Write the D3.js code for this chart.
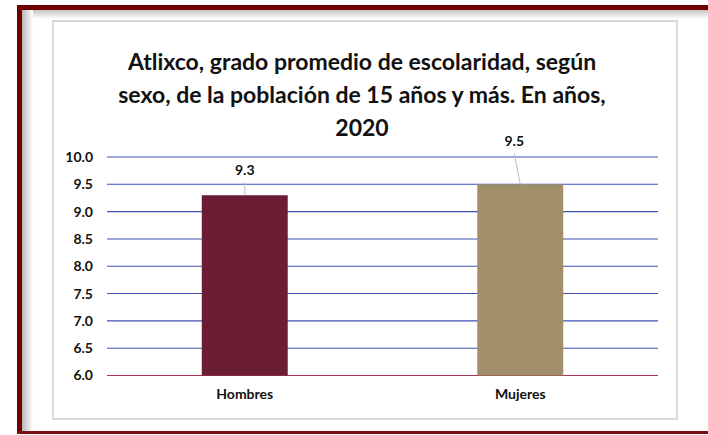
<!DOCTYPE html>
<html lang="es">
<head>
  <meta charset="UTF-8">
  <title>Atlixco escolaridad</title>
  <script src="https://d3js.org/d3.v7.min.js"></script>
  <style>
    body { margin: 0; background: #fff; }
    text { font-family: Lato, "Open Sans", sans-serif; font-weight: bold; fill: #111; }
  </style>
</head>
<body>
<script>
  // Datos
  const categorias = ["Hombres", "Mujeres"];
  const valores = [9.3, 9.5];
  const ticksY = [6.0, 6.5, 7.0, 7.5, 8.0, 8.5, 9.0, 9.5, 10.0];
  const colores = ["#6b1d33", "#a08f68"];
  const titulo = [
    "Atlixco, grado promedio de escolaridad, según",
    "sexo, de la población de 15 años y más. En años,",
    "2020"
  ];

  const W = 708, H = 435;
  const svg = d3.select("body").append("svg")
    .attr("width", W).attr("height", H);

  // Marco exterior con sombra
  const defs = svg.append("defs");
  const gh = defs.append("linearGradient").attr("id", "sombraH");
  gh.append("stop").attr("offset", "0%").attr("stop-color", "#b8b8b8");
  gh.append("stop").attr("offset", "100%").attr("stop-color", "#ffffff");
  const gv = defs.append("linearGradient").attr("id", "sombraV")
    .attr("x1", 0).attr("x2", 0).attr("y1", 0).attr("y2", 1);
  gv.append("stop").attr("offset", "0%").attr("stop-color", "#c4c4c4");
  gv.append("stop").attr("offset", "100%").attr("stop-color", "#ffffff");

  svg.append("rect").attr("x", 22).attr("y", 10).attr("width", W - 22).attr("height", 9)
    .attr("fill", "url(#sombraV)");
  svg.append("rect").attr("x", 22).attr("y", 10).attr("width", 11).attr("height", 421)
    .attr("fill", "url(#sombraH)");
  svg.append("rect").attr("x", 17).attr("y", 5).attr("width", W).attr("height", 5).attr("fill", "#6e0000");
  svg.append("rect").attr("x", 17).attr("y", 5).attr("width", 5).attr("height", 429).attr("fill", "#6e0000");
  svg.append("rect").attr("x", 17).attr("y", 431).attr("width", W).attr("height", 3).attr("fill", "#7a1010");

  // Recuadro del gráfico
  svg.append("rect").attr("x", 53).attr("y", 21).attr("width", 624).attr("height", 398)
    .attr("fill", "#fff").attr("stroke", "#d9d9d9").attr("stroke-width", 2);

  // Título
  svg.append("text")
    .attr("text-anchor", "middle")
    .style("font-size", "23px")
    .selectAll("tspan")
    .data(titulo)
    .join("tspan")
    .attr("x", 362)
    .attr("y", (d, i) => 70 + i * 33)
    .text(d => d);

  // Escalas
  const x = d3.scaleBand()
    .domain(categorias)
    .range([107, 658])
    .paddingInner(0.688)
    .paddingOuter(0.344);

  const y = d3.scaleLinear()
    .domain([6, 10])
    .range([375.5, 157]);

  // Rejilla
  svg.append("g").selectAll("line")
    .data(ticksY)
    .join("line")
    .attr("x1", 107).attr("x2", 658)
    .attr("y1", d => y(d)).attr("y2", d => y(d))
    .attr("stroke", d => d === 6 ? "#a8344f" : "#3f50b4")
    .attr("stroke-width", 1.1);

  // Eje Y
  const ejeY = svg.append("g")
    .attr("transform", "translate(100,0)")
    .call(d3.axisLeft(y).tickValues(ticksY).tickFormat(d3.format(".1f")).tickSize(0).tickPadding(7));
  ejeY.select(".domain").remove();
  ejeY.selectAll("text").style("font-size", "14px").style("font-family", "Lato, sans-serif").attr("fill", "#111");

  // Eje X
  const ejeX = svg.append("g")
    .attr("transform", "translate(0,376)")
    .call(d3.axisBottom(x).tickSize(0).tickPadding(13));
  ejeX.select(".domain").remove();
  ejeX.selectAll("text").style("font-size", "14px").style("font-family", "Lato, sans-serif").attr("fill", "#111");

  // Barras
  svg.append("g").selectAll("rect")
    .data(valores)
    .join("rect")
    .attr("x", (d, i) => x(categorias[i]))
    .attr("y", d => y(d))
    .attr("width", x.bandwidth())
    .attr("height", d => y(6) - y(d))
    .attr("fill", (d, i) => colores[i]);

  // Etiquetas con líneas guía
  const desplaz = [{dx: 0, dy: -20}, {dx: -6, dy: -38}];
  const etq = svg.append("g");
  valores.forEach((v, i) => {
    const cx = x(categorias[i]) + x.bandwidth() / 2;
    const lx = cx + desplaz[i].dx, ly = y(v) + desplaz[i].dy;
    etq.append("line")
      .attr("x1", lx).attr("y1", ly + 7)
      .attr("x2", cx).attr("y2", y(v))
      .attr("stroke", "#bfbfbf").attr("stroke-width", 1);
    etq.append("text")
      .attr("x", lx).attr("y", ly)
      .attr("text-anchor", "middle")
      .style("font-size", "14px")
      .text(d3.format(".1f")(v));
  });
</script>
</body>
</html>
